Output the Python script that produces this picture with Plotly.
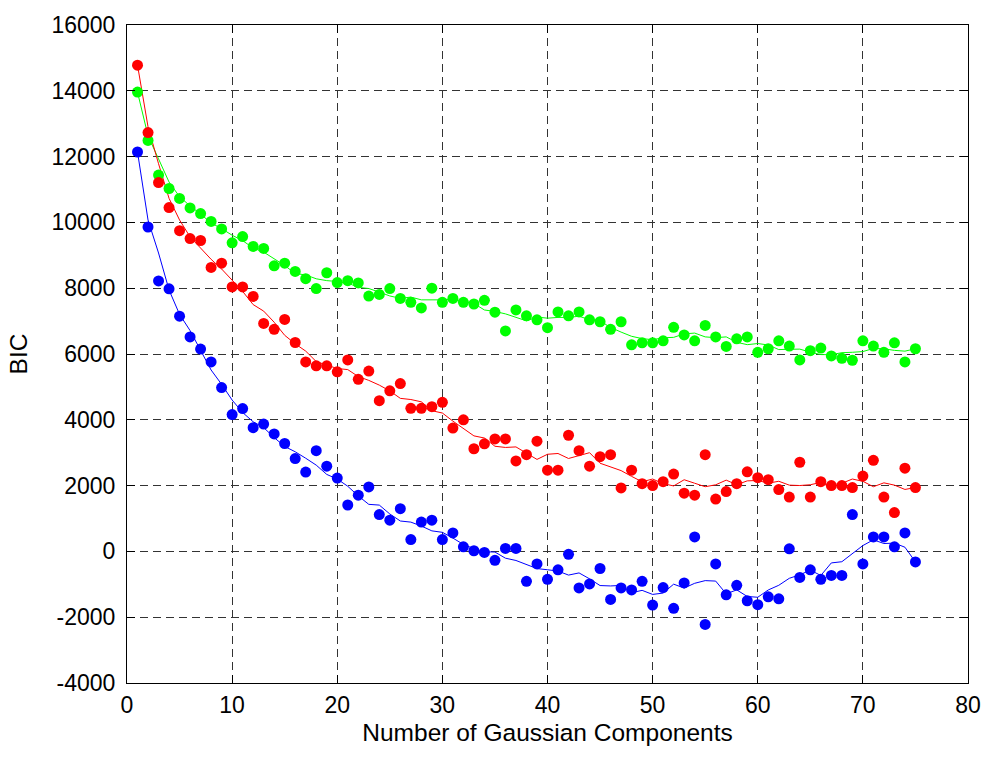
import numpy as np
import plotly.graph_objects as go

# Number of mixture components evaluated
components = list(range(1, 76))

# BIC scores per model (one value per component count)
bic_green = [13960, 12490, 11440, 11030, 10730, 10440, 10270, 10030, 9800, 9380,
             9570, 9270, 9210, 8680, 8760, 8510, 8290, 7990, 8470, 8170,
             8230, 8160, 7760, 7810, 7990, 7690, 7570, 7400, 8000, 7570,
             7690, 7570, 7520, 7630, 7270, 6700, 7340, 7160, 7040, 6800,
             7280, 7160, 7280, 7040, 6980, 6750, 6980, 6280, 6340, 6340,
             6400, 6810, 6580, 6400, 6870, 6520, 6230, 6460, 6520, 6050,
             6160, 6400, 6240, 5820, 6100, 6180, 5940, 5870, 5810, 6400,
             6240, 6050, 6340, 5760, 6160]

bic_red = [14780, 12730, 11210, 10450, 9750, 9510, 9450, 8630, 8760, 8040,
           8040, 7750, 6930, 6750, 7050, 6350, 5760, 5640, 5640, 5460,
           5820, 5230, 5480, 4580, 4880, 5100, 4350, 4350, 4400, 4530,
           3750, 4000, 3120, 3270, 3420, 3420, 2750, 2940, 3350, 2470,
           2470, 3530, 3060, 2590, 2880, 2940, 1930, 2470, 2060, 2000,
           2120, 2350, 1770, 1710, 2940, 1590, 1820, 2060, 2420, 2240,
           2180, 1880, 1650, 2710, 1650, 2120, 2000, 2000, 1940, 2290,
           2770, 1650, 1180, 2530, 1940]

bic_blue = [12140, 9860, 8220, 7980, 7150, 6520, 6150, 5760, 4980, 4160,
            4340, 3760, 3870, 3570, 3280, 2820, 2410, 3060, 2590, 2230,
            1410, 1710, 1960, 1120, 950, 1300, 360, 890, 950, 360,
            560, 140, 20, -30, -270, 90, 90, -910, -380, -850,
            -560, -90, -1110, -990, -520, -1460, -1110, -1170, -910, -1630,
            -1100, -1730, -960, 440, -2220, -380, -1320, -1030, -1500, -1620,
            -1380, -1440, 80, -790, -560, -850, -730, -730, 1120, -380,
            440, 440, 140, 560, -320]

x_ticks = list(range(0, 81, 10))
y_ticks = list(range(-4000, 16001, 2000))
x_tick_labels = [str(v) for v in x_ticks]
y_tick_labels = [str(v) for v in y_ticks]


def moving_average(values, span=5):
    """Centred moving average; the window shrinks symmetrically at the ends."""
    v = np.asarray(values, dtype=float)
    n = len(v)
    half = span // 2
    out = np.empty(n)
    for i in range(n):
        h = min(half, i, n - 1 - i)
        out[i] = v[i - h:i + h + 1].mean()
    return out


series = [
    (bic_green, "#00ff00"),
    (bic_red, "#ff0000"),
    (bic_blue, "#0000ff"),
]

fig = go.Figure()
for values, color in series:
    fig.add_trace(go.Scatter(
        x=components, y=moving_average(values), mode="lines",
        line=dict(color=color, width=1), showlegend=False, hoverinfo="skip"))
for values, color in series:
    fig.add_trace(go.Scatter(
        x=components, y=values, mode="markers",
        marker=dict(color=color, size=11, line=dict(width=0)),
        showlegend=False))

font = "Liberation Sans, Arial, Helvetica, sans-serif"
axis_common = dict(
    showline=True, linecolor="black", linewidth=1, mirror="ticks",
    ticks="inside", ticklen=8, tickcolor="black", tickwidth=1,
    showgrid=True, gridcolor="#333333", gridwidth=1, griddash="8px,5px",
    zeroline=False, tickfont=dict(family=font, size=23, color="black"),
)

fig.update_layout(
    width=993, height=757,
    margin=dict(l=127, r=23, t=15, b=74),
    paper_bgcolor="white", plot_bgcolor="white",
    font=dict(family=font, color="black"),
    xaxis=dict(range=[0, 80], tickvals=x_ticks, ticktext=x_tick_labels,
               ticklabelstandoff=1,
               title=dict(text="Number of Gaussian Components",
                          font=dict(family=font, size=24.5), standoff=7),
               **axis_common),
    yaxis=dict(range=[-4000, 16000], tickvals=y_ticks, ticktext=y_tick_labels,
               ticklabelstandoff=6,
               title=dict(text="BIC", font=dict(family=font, size=24.5), standoff=16),
               **axis_common),
)

fig.write_html("out.html")
